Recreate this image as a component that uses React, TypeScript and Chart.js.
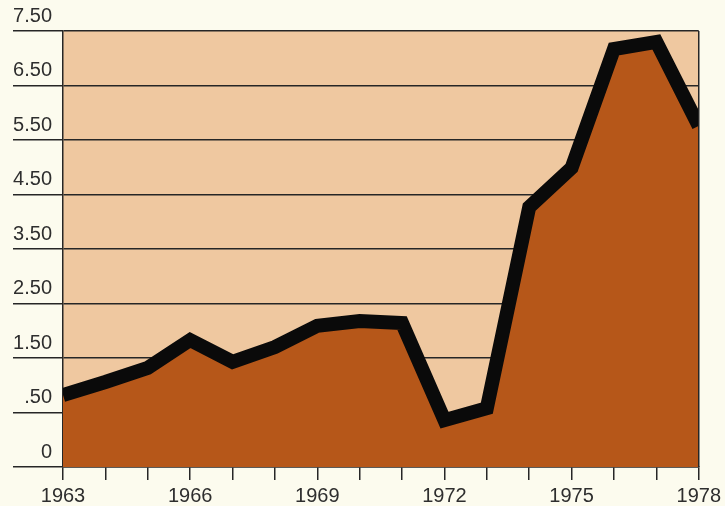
import React, { useEffect, useRef } from "react";
import { Chart, registerables } from "chart.js";

Chart.register(...registerables);

const years = [1963, 1964, 1965, 1966, 1967, 1968, 1969, 1970, 1971, 1972, 1973, 1974, 1975, 1976, 1977, 1978];
const values = [1.32, 1.56, 1.82, 2.33, 1.93, 2.2, 2.59, 2.68, 2.64, 0.86, 1.08, 4.77, 5.49, 7.67, 7.8, 6.26];
const yTickLabels = ["0", ".50", "1.50", "2.50", "3.50", "4.50", "5.50", "6.50", "7.50"];
const xLabelYears = [1963, 1966, 1969, 1972, 1975, 1978];

const PAGE_BG = "#FCFBEE";
const AREA_BG = "#EFC8A0";
const FILL = "#B65719";
const INK = "#262626";

const bgPlugin = {
  id: "bgPlugin",
  beforeDraw(chart: any) {
    const { ctx, width, height, chartArea } = chart;
    ctx.save();
    ctx.fillStyle = PAGE_BG;
    ctx.fillRect(0, 0, width, height);
    ctx.fillStyle = AREA_BG;
    ctx.fillRect(chartArea.left, chartArea.top, chartArea.right - chartArea.left, chartArea.bottom - chartArea.top);
    ctx.restore();
  },
  afterDraw(chart: any) {
    const { ctx, chartArea } = chart;
    ctx.save();
    ctx.strokeStyle = INK;
    ctx.lineWidth = 1.5;
    ctx.beginPath();
    ctx.moveTo(chartArea.right, chartArea.top);
    ctx.lineTo(chartArea.right, chartArea.bottom);
    ctx.stroke();
    ctx.restore();
  },
};

export default function App() {
  const ref = useRef<HTMLCanvasElement | null>(null);

  useEffect(() => {
    document.body.style.margin = "0";
    document.body.style.background = PAGE_BG;
    const canvas = ref.current;
    if (!canvas) return;
    const chart = new Chart(canvas, {
      type: "line",
      data: {
        datasets: [
          {
            data: years.map((y, i) => ({ x: y, y: values[i] })),
            borderColor: "#0a0a0a",
            borderWidth: 14,
            backgroundColor: FILL,
            fill: "origin",
            pointRadius: 0,
            tension: 0,
            clip: 0,
            borderJoinStyle: "miter",
          } as any,
        ],
      },
      options: {
        responsive: false,
        animation: false,
        devicePixelRatio: 1,
        layout: { padding: { top: 31, right: 25, left: 0, bottom: 0 } },
        plugins: { legend: { display: false }, tooltip: { enabled: false } },
        scales: {
          x: {
            type: "linear",
            min: 1963,
            max: 1978,
            afterFit: (s: any) => {
              s.height = 39;
            },
            ticks: {
              stepSize: 1,
              autoSkip: false,
              maxRotation: 0,
              padding: 4,
              color: "#2e2e2e",
              font: { family: "'Liberation Sans', Arial, sans-serif", size: 20 },
              callback: (v: any) => (xLabelYears.includes(Number(v)) ? String(v) : ""),
            },
            grid: { drawOnChartArea: false, drawTicks: true, tickLength: 13, color: INK, lineWidth: 1.5 },
            border: { display: true, color: INK, width: 1.5 },
          },
          y: {
            type: "linear",
            min: 0,
            max: 8,
            z: 1,
            afterFit: (s: any) => {
              s.width = 63;
            },
            ticks: {
              stepSize: 1,
              autoSkip: false,
              padding: -39,
              labelOffset: -15,
              color: "#2e2e2e",
              font: { family: "'Liberation Sans', Arial, sans-serif", size: 20 },
              callback: (v: any) => yTickLabels[Number(v)] ?? "",
            },
            grid: { drawOnChartArea: true, drawTicks: true, tickLength: 50, color: INK, lineWidth: 1.5 },
            border: { display: true, color: INK, width: 1.5 },
          },
        },
      } as any,
      plugins: [bgPlugin],
    });
    return () => chart.destroy();
  }, []);

  return <canvas ref={ref} width={725} height={506} style={{ display: "block", width: 725, height: 506 }} />;
}
